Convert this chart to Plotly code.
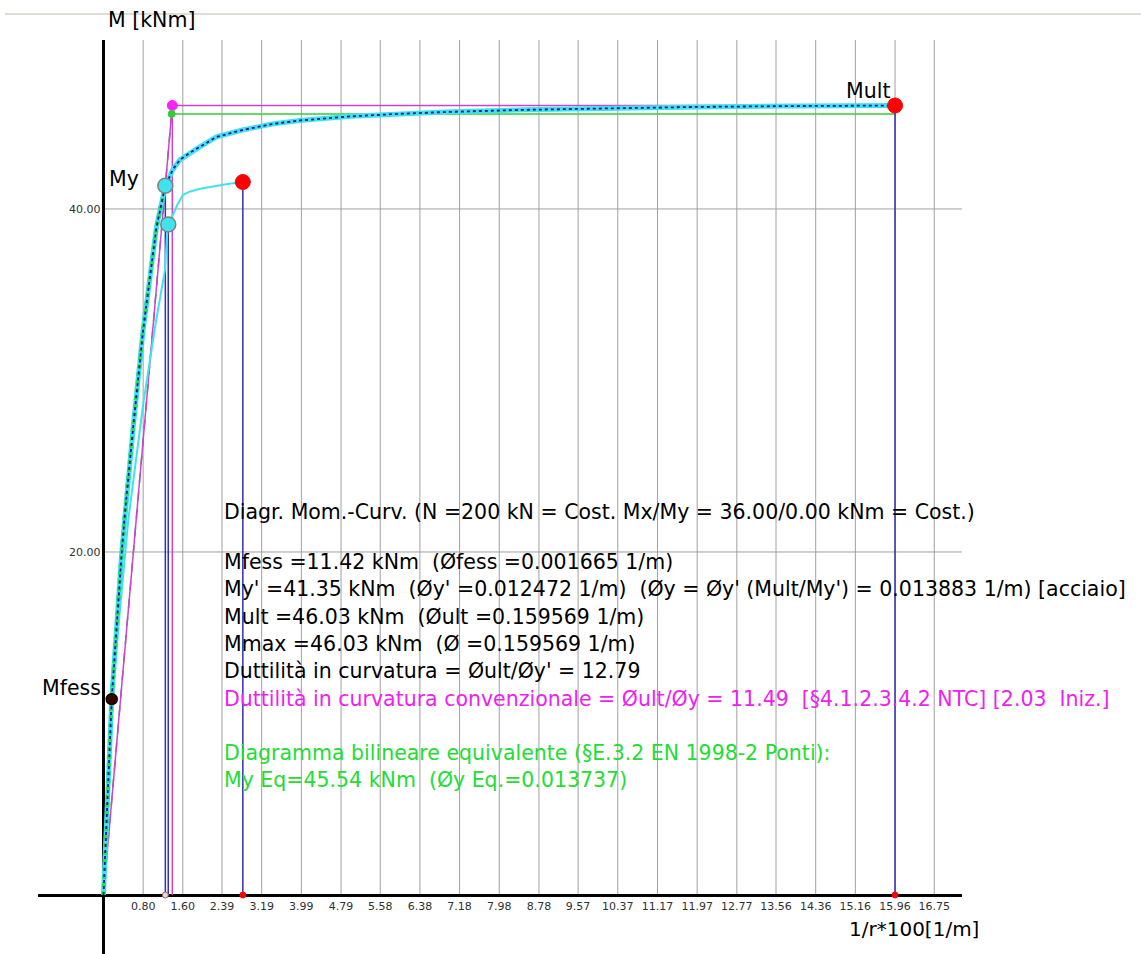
import plotly.graph_objects as go

# ---------------- data (curvature in 1/r*100 [1/m], moment in kNm) ----------------
phi_main = [0, 0.1665, 0.367, 0.433, 0.60, 0.80, 0.95, 1.07, 1.2472, 1.40, 1.54, 1.75,
            1.95, 2.28, 2.8, 3.4, 4.0, 5.0, 6.0, 7.0, 8.5, 10.0, 12.0, 14.0, 15.96]
M_main = [0, 11.42, 19.92, 22.25, 27.3, 32.94, 36.3, 38.96, 41.35, 42.3, 42.86, 43.3,
          43.63, 44.2, 44.6, 44.95, 45.17, 45.4, 45.55, 45.66, 45.78, 45.87, 45.95, 46.0, 46.03]

phi_sec = [0, 0.1665, 0.5, 0.8, 1.05, 1.24, 1.285, 1.306, 1.35, 1.40, 1.50, 1.605, 1.75,
           1.95, 2.2, 2.5, 2.81]
M_sec = [0, 11.42, 21.87, 28.6, 33.3, 36.44, 38.6, 39.1, 39.35, 39.65, 40.3, 40.82, 41.02,
         41.18, 41.32, 41.45, 41.57]

phi_fess, M_fess = 0.1665, 11.42      # cracking
phi_y1, M_y1 = 1.2472, 41.35          # first yield My'
phi_y, M_ult = 1.3883, 46.03          # conventional yield / ultimate moment
phi_ult = 15.96                       # ultimate curvature
phi_eq, M_eq = 1.3737, 45.54          # equivalent bilinear
phi_b, M_b = 1.306, 39.1              # second curve yield point
phi_c, M_c = 2.81, 41.57              # second curve end point

x_ticks = [0.80, 1.60, 2.39, 3.19, 3.99, 4.79, 5.58, 6.38, 7.18, 7.98, 8.78, 9.57,
           10.37, 11.17, 11.97, 12.77, 13.56, 14.36, 15.16, 15.96, 16.75]
y_ticks = [20, 40]

# ---------------- layout geometry ----------------
W, H = 1141, 954
ML, MR, MT, MB = 38, 179, 40, 0
X_MIN, X_MAX = -1.32, 17.31
Y_MIN, Y_MAX = -3.44, 49.85
PW, PH = W - ML - MR, H - MT - MB


def xp(px):
    return (px - ML) / PW


def yp(py):
    return (H - MB - py) / PH


FONT = "DejaVu Sans"
CYAN = "#3fe3ee"
BLUE = "#3030b8"
PINK = "#cc44cc"
GREEN = "#33cc33"

fig = go.Figure()


def line(x, y, color, width, dash="solid"):
    fig.add_trace(go.Scatter(x=x, y=y, mode="lines", hoverinfo="skip",
                             line=dict(color=color, width=width, dash=dash)))


def dots(x, y, color, size, lcolor, lwidth=1):
    fig.add_trace(go.Scatter(x=x, y=y, mode="markers", hoverinfo="skip",
                             marker=dict(color=color, size=size,
                                         line=dict(color=lcolor, width=lwidth))))


# equivalent bilinear first branch (dashed grey)
line([0, phi_eq], [0, M_eq], "#707070", 1.5, "dash")
# conventional bilinear (magenta)
line([0, phi_y, phi_ult], [0, M_ult, M_ult], PINK, 1.5)
line([phi_y, phi_y], [0, M_ult], PINK, 1.5)
# equivalent bilinear plateau (green)
line([phi_eq, phi_ult], [M_eq, M_eq], GREEN, 1.5)
# vertical reference lines (blue)
line([phi_y1, phi_y1, None, phi_b, phi_b, None, phi_c, phi_c, None, phi_ult, phi_ult],
     [0, M_y1, None, 0, M_b, None, 0, M_c, None, 0, M_ult], BLUE, 1.5)
# secondary curve (thin cyan)
line(phi_sec, M_sec, CYAN, 2)
# main moment-curvature curve
line(phi_main, M_main, CYAN, 5)
iy = phi_main.index(phi_y1)
line(phi_main[:iy + 1], M_main[:iy + 1], "#22dd66", 4, "dot")
line(phi_main, M_main, "#1010a0", 1.8, "dot")

# markers
dots([phi_y1], [0], "#e8d8d8", 6, "#a06060")
dots([phi_c, phi_ult], [0, 0], "#ff0000", 6, "#ff0000")
dots([phi_fess], [M_fess], "#3a0000", 11, "#000000", 1.5)
dots([phi_y1, phi_b], [M_y1, M_b], CYAN, 15, "#808080", 1.5)
dots([phi_c, phi_ult], [M_c, M_ult], "#ff0000", 15, "#ff0000")
dots([phi_y], [M_ult], "#ff22ff", 10, "#ff22ff")
dots([phi_eq], [M_eq], "#33cc33", 7, "#33cc33")

# grid (drawn as shapes so it stops at the axes)
shapes = []
for xv in x_ticks:
    shapes.append(dict(type="line", xref="x", yref="y", x0=xv, x1=xv, y0=0, y1=Y_MAX,
                       line=dict(color="#a0a0a0", width=1), layer="below"))
for yv in y_ticks:
    shapes.append(dict(type="line", xref="x", yref="y", x0=0, x1=X_MAX, y0=yv, y1=yv,
                       line=dict(color="#a0a0a0", width=1), layer="below"))
# page border line at top
shapes.append(dict(type="line", xref="paper", yref="paper", x0=xp(5), x1=xp(1141),
                   y0=yp(14), y1=yp(14), line=dict(color="#deded6", width=2)))

ann = []


def text(s, px, py, size=20.5, color="#000000", xanchor="left"):
    ann.append(dict(text=s, xref="paper", yref="paper", x=xp(px), y=yp(py),
                    xanchor=xanchor, yanchor="middle", showarrow=False,
                    font=dict(family=FONT, size=size, color=color)))


sp2 = "\u00a0\u00a0"
text("M [kNm]", 106, 20, 20.5)
text("1/r*100[1/m]", 981, 929, 20, xanchor="right")
text("Mult", 892, 91, 20.5, xanchor="right")
text("My", 141, 179, 20.5, xanchor="right")
text("Mfess", 103, 688, 20.5, xanchor="right")

TX = 222
text("Diagr. Mom.-Curv. (N =200 kN = Cost. Mx/My = 36.00/0.00 kNm = Cost.)", TX, 512)
text(f"Mfess ={M_fess:.2f} kNm{sp2}(Øfess =0.001665 1/m)", TX, 562)
text(f"My' ={M_y1:.2f} kNm{sp2}(Øy' =0.012472 1/m){sp2}(Øy = Øy' (Mult/My') = 0.013883 1/m) [acciaio]", TX, 589)
text(f"Mult ={M_ult:.2f} kNm{sp2}(Øult =0.159569 1/m)", TX, 617)
text(f"Mmax ={M_ult:.2f} kNm{sp2}(Ø =0.159569 1/m)", TX, 644)
text("Duttilità in curvatura = Øult/Øy' = 12.79", TX, 671)
text(f"Duttilità in curvatura convenzionale = Øult/Øy = 11.49{sp2}[§4.1.2.3.4.2 NTC] [2.03{sp2}Iniz.]",
     TX, 699, color="#ee22ee")
text("Diagramma bilineare equivalente (§E.3.2 EN 1998-2 Ponti):", TX, 753, color="#22dd33")
text(f"My Eq={M_eq:.2f} kNm{sp2}(Øy Eq.=0.013737)", TX, 780, color="#22dd33")

fig.update_layout(
    width=W, height=H, margin=dict(l=ML, r=MR, t=MT, b=MB, pad=0),
    paper_bgcolor="white", plot_bgcolor="white", showlegend=False,
    shapes=shapes, annotations=ann,
    xaxis=dict(range=[X_MIN, X_MAX], showgrid=False, zeroline=False,
               anchor="free", position=(0 - Y_MIN) / (Y_MAX - Y_MIN),
               showline=True, linecolor="#000000", linewidth=2.5, layer="below traces",
               tickvals=x_ticks, ticktext=[f"{v:.2f}" for v in x_ticks], ticks="",
               tickfont=dict(family=FONT, size=11, color="#303030")),
    yaxis=dict(range=[Y_MIN, Y_MAX], showgrid=False, zeroline=False,
               anchor="free", position=(0 - X_MIN) / (X_MAX - X_MIN),
               showline=True, linecolor="#000000", linewidth=2.5, layer="below traces",
               tickvals=y_ticks, ticktext=[f"{v:.2f}" for v in y_ticks], ticks="",
               tickfont=dict(family=FONT, size=11, color="#303030")),
)

fig.write_html("out.html", post_script="document.body.style.margin='0';",
               config={"displayModeBar": False})
